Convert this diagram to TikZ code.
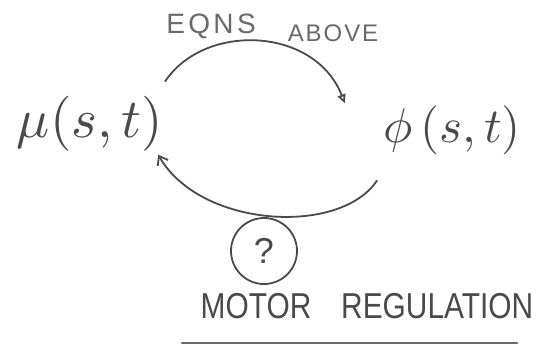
\documentclass[tikz,border=0pt]{standalone}
\usepackage{fontspec}
\setsansfont{Liberation Sans}
\usetikzlibrary{arrows.meta}
\definecolor{pencil}{HTML}{4A4A4A}
\definecolor{pencillight}{HTML}{6A6A6A}
\begin{document}
\begin{tikzpicture}[x=1pt,y=-1pt,
  pen/.style={draw=pencil,line width=1.8pt,line cap=round},
  hand/.style={text=pencil,inner sep=0pt,font=\sffamily},
  mathlbl/.style={text=pencil,inner sep=0pt}]
\useasboundingbox[fill=white] (0,0) rectangle (538,349);
% labels
\node[hand,text=pencillight,font=\sffamily\fontsize{28}{32}\selectfont\addfontfeatures{LetterSpace=12}] (eqns) at (211,26) {EQNS};
\node[hand,text=pencillight,font=\sffamily\fontsize{24}{28}\selectfont\addfontfeatures{LetterSpace=8}] (above) at (333,33) {ABOVE};
\node[mathlbl] (mu) at (90,124) {\scalebox{5.5}{$\mu(s,t)$}};
\node[mathlbl] (phi) at (452,130) {\scalebox{4.9}{$\phi\,(s,t)$}};
\node[pen,circle,minimum size=66pt,inner sep=0pt,text=pencil,font=\sffamily\fontsize{36}{40}\selectfont] (q) at (264,251) {?};
\node[hand,font=\sffamily\fontsize{36}{40}\selectfont,xscale=0.83] (motor) at (367,306) {MOTOR\quad REGULATION};
% connectors
\draw[pen,-{Triangle[open,length=9pt,width=8pt]}] ([xshift=2pt,yshift=15pt]mu.north east) .. controls (205,22) and (315,27) .. ([xshift=-38pt,yshift=2pt]phi.north west);
\draw[pen,-{Straight Barb[length=8pt,width=12pt]}] ([xshift=-6pt,yshift=-26pt]phi.south west) .. controls (340,236) and (200,228) .. ([xshift=-5pt,yshift=-3pt]mu.south east);
\coordinate (ul1) at (182,343);
\coordinate (ul2) at (517,343);
\draw[pen,line width=2.4pt,draw=pencillight] (ul1) -- (ul2);
\end{tikzpicture}
\end{document}
